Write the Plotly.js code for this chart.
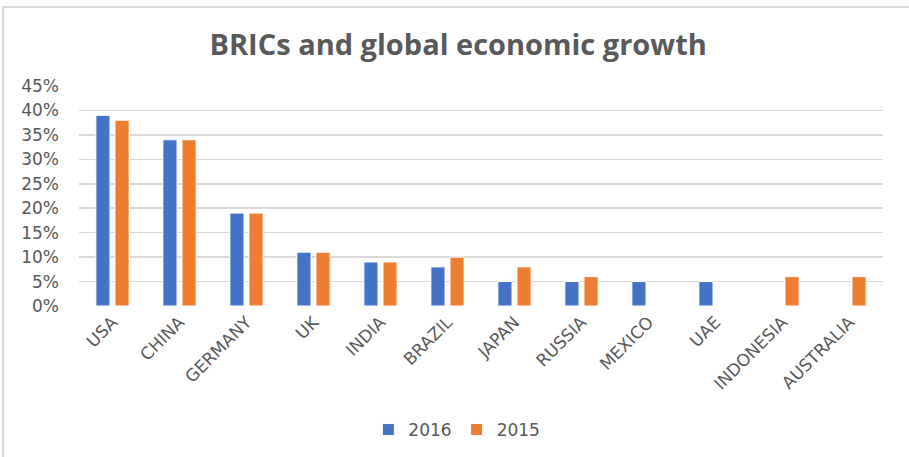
<!DOCTYPE html>
<html>
<head>
<meta charset="utf-8">
<script src="https://cdn.plot.ly/plotly-3.0.1.min.js"></script>
<style>
  html, body { margin: 0; padding: 0; background: #ffffff; }
  #wrap { position: relative; width: 909px; height: 457px; overflow: hidden; }
  #chart { position: absolute; left: 0; top: 0; width: 909px; height: 457px; }
  #frame { position: absolute; left: 2px; top: 6px; width: 920px; height: 470px;
           border-left: 2px solid #d9d9d9; border-top: 2px solid #d9d9d9; pointer-events: none; }
</style>
</head>
<body>
<div id="wrap">
  <div id="chart"></div>
  <div id="frame"></div>
</div>
<script>
const categories = ["USA", "CHINA", "GERMANY", "UK", "INDIA", "BRAZIL", "JAPAN", "RUSSIA", "MEXICO", "UAE", "INDONESIA", "AUSTRALIA"];
const values2016 = [0.39, 0.34, 0.19, 0.11, 0.09, 0.08, 0.05, 0.05, 0.05, 0.05, null, null];
const values2015 = [0.38, 0.34, 0.19, 0.11, 0.09, 0.10, 0.08, 0.06, null, null, 0.06, 0.06];
const yTickValues = [0, 0.05, 0.10, 0.15, 0.20, 0.25, 0.30, 0.35, 0.40, 0.45];

const gray = "#595959";
const tickFamily = "DejaVu Sans";
const traces = [
  { type: "bar", name: "2016", x: categories, y: values2016,
    marker: { color: "#4472c4", line: { color: "#ffffff", width: 1 } } },
  { type: "bar", name: "2015", x: categories, y: values2015,
    marker: { color: "#ed7d31", line: { color: "#ffffff", width: 1 } } }
];

const layout = {
  width: 909, height: 457,
  paper_bgcolor: "#ffffff", plot_bgcolor: "#ffffff",
  margin: { l: 79, r: 26, t: 85.5, b: 151, autoexpand: false },
  barmode: "group", bargap: 0.43, bargroupgap: 0.26,
  title: { text: "BRICs and global economic growth", x: 0.504, xanchor: "center",
           xref: "container", yref: "container",
           y: 1 - 45 / 457, yanchor: "middle",
           font: { family: "Open Sans", size: 29, color: gray, weight: 700 } },
  xaxis: { type: "category", tickangle: -45, showgrid: false, showline: false, zeroline: false,
           automargin: false, ticks: "", ticklabelstandoff: 2,
           tickfont: { family: tickFamily, size: 17, color: gray } },
  yaxis: { range: [0, 0.45], tickvals: yTickValues, tickformat: ".0%", showline: false,
           automargin: false,
           zeroline: false, gridcolor: "#d9d9d9", gridwidth: 1.5, ticks: "",
           ticklabelstandoff: 19,
           tickfont: { family: tickFamily, size: 17, color: gray } },
  legend: { orientation: "h", xref: "container", yref: "container",
            x: 0.5026, xanchor: "center", y: 1 - 430 / 457, yanchor: "middle",
            font: { family: tickFamily, size: 17, color: gray }, itemwidth: 30,
            traceorder: "normal" },
  showlegend: true
};

Plotly.newPlot("chart", traces, layout, { displayModeBar: false, staticPlot: true });
</script>
</body>
</html>
